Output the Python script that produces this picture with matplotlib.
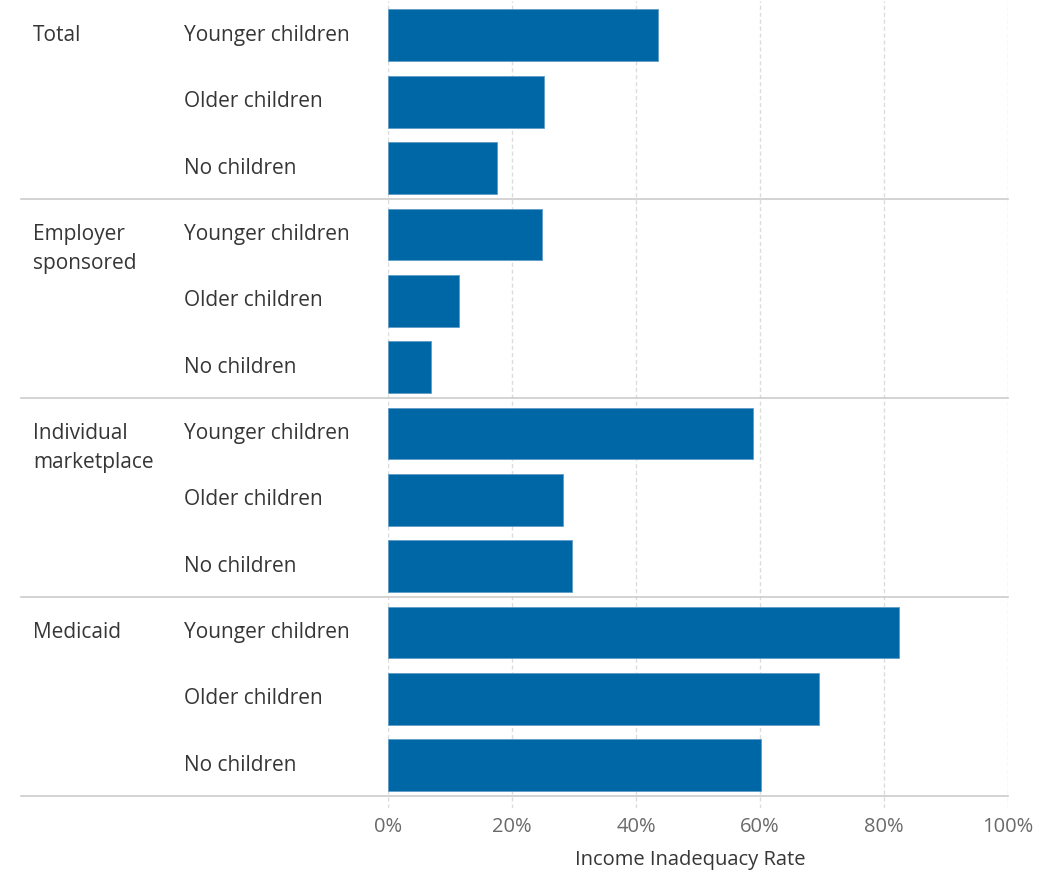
import matplotlib.pyplot as plt
from matplotlib.ticker import FuncFormatter

# данные с картинки
groups = ["Total", "Employer\nsponsored", "Individual\nmarketplace", "Medicaid"]
subgroups = ["Younger children", "Older children", "No children"]
rates = [
    [43.5, 25.2, 17.6],   # Total
    [24.8, 11.5, 6.9],    # Employer sponsored
    [58.9, 28.2, 29.7],   # Individual marketplace
    [82.4, 69.5, 60.2],   # Medicaid
]
xticks = [0, 20, 40, 60, 80, 100]
xlabel = "Income Inadequacy Rate"

bar_color = "#0067a6"
text_color = "#363636"
plt.rcParams['font.family'] = ['Open Sans', 'DejaVu Sans']

fig = plt.figure(figsize=(10.38, 8.72), dpi=100)
ax = fig.add_axes([0.3738, 0.073, 0.5973, 0.926])

# строим бары по строкам
values = [v for row in rates for v in row]
ypos = list(range(len(values)))
ax.barh(ypos, values, height=0.78, color=bar_color,
        edgecolor="#5f9cc6", linewidth=0.6, zorder=3)

ax.set_xlim(0, 100)
ax.set_ylim(11.65, -0.52)
ax.set_xticks(xticks)
ax.xaxis.set_major_formatter(FuncFormatter(lambda v, p: f"{v:.0f}%"))
ax.tick_params(axis='x', length=0, labelsize=14.5, labelcolor="#6a6a6a", pad=6)
ax.set_yticks([])
for s in ax.spines.values():
    s.set_visible(False)
ax.grid(axis='x', color="#dcdcdc", linestyle=(0, (3, 2)), linewidth=1, zorder=0)

ax.set_xlabel(xlabel, fontsize=14.5, color=text_color)
ax.xaxis.set_label_coords(0.487, -0.051)

# подписи и разделители групп (x в единицах данных: 6.2 px на 1%)
x_group = (33 - 388) / 6.2
x_sub = (184 - 388) / 6.2
x_line = (21 - 388) / 6.2
for gi, g in enumerate(groups):
    first = gi * len(subgroups)
    for li, line in enumerate(g.split("\n")):
        ax.text(x_group, first + li * 0.44, line, ha='left', va='center',
                fontsize=15, color=text_color, clip_on=False)
    for si, sg in enumerate(subgroups):
        ax.text(x_sub, first + si, sg, ha='left', va='center',
                fontsize=15, color=text_color, clip_on=False)
    sep = first + len(subgroups) - 1 + 0.46
    ax.plot([x_line, 100], [sep, sep], color="#cccccc",
            linewidth=1.2, clip_on=False, zorder=2)

fig.savefig("out.png", dpi=100)
